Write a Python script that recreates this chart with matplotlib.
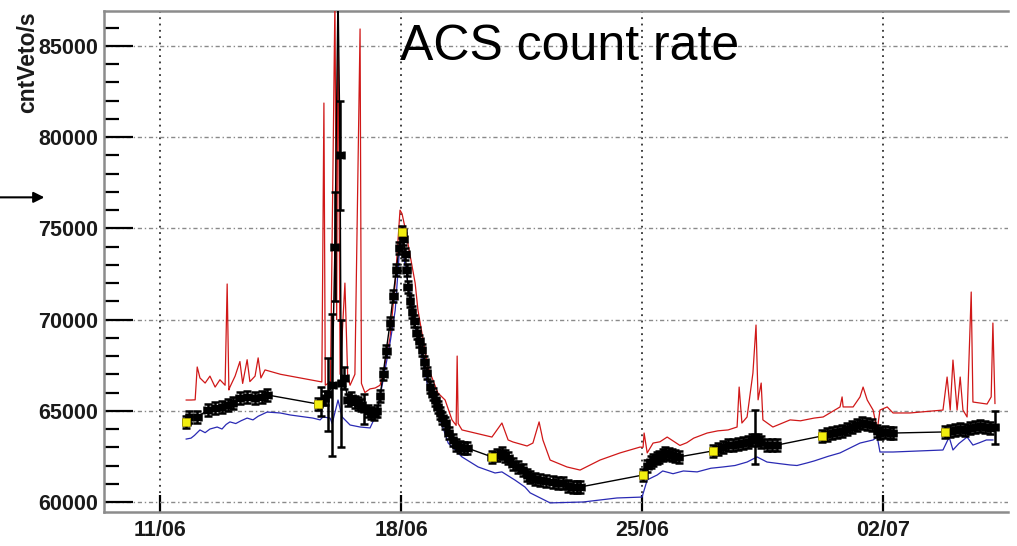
"""ACS veto count rate over the monitoring period."""

import matplotlib.pyplot as plt
import numpy as np
from matplotlib.ticker import FixedLocator, MultipleLocator

# time axis in days since 11/06 00:00
TICK_DAYS = [0, 7, 14, 21]
TICK_LABELS = ["11/06", "18/06", "25/06", "02/07"]

# upper envelope (red)
max_day = [
    0.76, 0.90, 1.02, 1.08, 1.16, 1.31, 1.45, 1.60, 1.74, 1.89, 1.95, 2.00, 2.03, 2.18,
    2.32, 2.40, 2.53, 2.61, 2.76, 2.85, 2.93, 3.05, 3.50, 4.07, 4.70, 4.76, 4.80, 4.95,
    5.08, 5.13, 5.17, 5.23, 5.37, 5.45, 5.52, 5.66, 5.81, 5.85, 5.95, 6.10, 6.25, 6.39,
    6.48, 6.68, 6.83, 6.97, 7.03, 7.12, 7.26, 7.41, 7.49, 7.78, 8.07, 8.28, 8.48, 8.60,
    8.63, 8.66, 8.77, 9.15, 9.64, 9.93, 10.11, 10.25, 10.66, 10.83, 11.01, 11.12, 11.33,
    11.82, 12.20, 12.78, 13.36, 13.94, 14.03, 14.06, 14.15, 14.32, 14.52, 14.73, 14.90,
    15.10, 15.30, 15.50, 15.89, 16.20, 16.50, 16.76, 16.82, 16.90, 17.05, 17.22, 17.31,
    17.37, 17.46, 17.51, 17.80, 18.30, 18.60, 19.00, 19.26, 19.75, 19.81, 19.84, 20.13,
    20.33, 20.42, 20.54, 20.71, 20.83, 20.91, 21.12, 21.29, 21.78, 22.74, 22.86, 22.95,
    23.03, 23.15, 23.24, 23.32, 23.44, 23.56, 23.61, 24.02, 24.14, 24.19, 24.25,
]
max_rate = [
    65590, 65590, 65600, 67400, 66800, 66520, 66900, 66300, 66700, 66400, 71950, 66140, 66300, 66900,
    67700, 66500, 67800, 66600, 66900, 67900, 66800, 67240, 67000, 66800, 66580, 81870, 66400, 66600,
    87500, 70000, 87500, 67000, 72000, 66900, 66400, 67000, 85930, 66500, 66000, 66200, 66250, 66400,
    67000, 69000, 72000, 76000, 75800, 75000, 73540, 72000, 70530, 67400, 65980, 65590, 64500, 64200,
    68000, 64300, 63950, 63780, 63560, 64330, 63400, 63290, 63070, 63230, 64390, 63400, 62300,
    61920, 61750, 62300, 62690, 63010, 63000, 63780, 62690, 63230, 63300, 63560, 63350,
    63100, 63250, 63500, 63780, 63900, 63950, 64110, 66300, 64330, 64660, 67070, 69700,
    65600, 66520, 64500, 64110, 64500, 64450, 64600, 64660, 65210, 65760, 65210, 65210,
    65760, 66300, 65590, 65040, 63950, 65040, 65210, 64880, 64880, 65040, 66850, 65040,
    67780, 65040, 66850, 65040, 64660, 71510, 65480, 65370, 65760, 69810, 65400,
]

# lower envelope (blue)
min_day = [
    0.76, 0.90, 1.00, 1.16, 1.31, 1.45, 1.66, 1.80, 1.92, 2.03, 2.20, 2.35, 2.53, 2.70,
    2.85, 3.11, 3.49, 3.78, 4.44, 4.65, 4.73, 4.94, 5.00, 5.17, 5.29, 5.52, 5.81, 6.10,
    6.30, 6.48, 6.68, 6.83, 6.97, 7.03, 7.20, 7.32, 7.41, 7.61, 7.78, 8.07, 8.37, 8.77,
    9.24, 9.73, 9.93, 10.31, 10.60, 10.75, 11.33, 12.29, 13.27, 14.00, 14.15, 14.32,
    14.44, 14.60, 14.90, 15.20, 15.60, 16.00, 16.35, 16.70, 17.05, 17.34, 17.63, 18.00,
    18.30, 18.50, 18.79, 19.00, 19.40, 19.75, 20.33, 20.71, 20.83, 20.91, 21.29, 22.74,
    22.92, 23.03, 23.20, 23.44, 23.61, 23.80, 24.00, 24.19,
]
min_rate = [
    63450, 63500, 63650, 63950, 63800, 64000, 64110, 64000, 64250, 64390, 64300, 64450, 64600, 64500,
    64700, 64930, 64880, 64770, 64600, 64500, 64660, 64600, 64300, 65590, 64660, 64220, 64110, 64060,
    64880, 66690, 68720, 70500, 74200, 74000, 72000, 71070, 69590, 67950, 66300, 64880, 63230, 62470,
    61920, 61590, 61650, 61200, 60820, 60500, 59950, 60000, 60220, 60270, 61210, 61370,
    61480, 61700, 61550, 61700, 61650, 61850, 61920, 62000, 62190, 62470, 62190, 62100,
    62030, 62000, 62140, 62250, 62500, 62690, 63230, 63400, 63560, 62740, 62740, 62850,
    63560, 62850, 63200, 63560, 63120, 63250, 63400, 63400,
]

# mean rate per interval with errors (black)
mean_day = [
    0.76, 0.84, 1.08, 1.39, 1.60, 1.80, 1.97, 2.12, 2.32, 2.53, 2.76, 2.96, 3.11,
    4.59, 4.68, 4.79, 4.88, 5.00, 5.08, 5.17, 5.23, 5.26, 5.35, 5.45, 5.55, 5.66, 5.75,
    5.84, 5.93, 6.04, 6.13, 6.22, 6.30, 6.39, 6.48, 6.57, 6.68, 6.77, 6.86, 6.94,
    7.03, 7.07, 7.12, 7.16, 7.20, 7.26, 7.32, 7.38, 7.46, 7.53, 7.61, 7.68, 7.75, 7.84,
    7.92, 7.99, 8.06, 8.13, 8.20, 8.28, 8.39, 8.51, 8.61, 8.71, 8.82, 8.92,
    9.64, 9.78, 9.93, 10.02, 10.11, 10.25, 10.40, 10.54, 10.66, 10.75, 10.90, 11.04,
    11.20, 11.41, 11.55, 11.70, 11.85, 11.99, 12.10, 12.20,
    14.03, 14.15, 14.25, 14.32, 14.42, 14.50, 14.60, 14.67, 14.77, 14.87, 14.97, 15.07,
    16.06, 16.20, 16.35, 16.50, 16.64, 16.79, 16.93, 17.08, 17.20, 17.28, 17.37, 17.45,
    17.63, 17.78, 17.92,
    19.23, 19.37, 19.52, 19.66, 19.81, 19.95, 20.10, 20.24, 20.39, 20.53, 20.68, 20.83,
    20.91, 21.06, 21.20, 21.29,
    22.80, 22.95, 23.10, 23.24, 23.39, 23.53, 23.68, 23.82, 23.97, 24.11, 24.24,
]
mean_rate = [
    64390, 64660, 64660, 65040, 65150, 65200, 65320, 65430, 65700, 65760, 65700, 65760, 65870,
    65370, 65500, 65700, 65900, 66400, 74000, 88000, 79000, 66500, 66800, 65600, 65700, 65500, 65400,
    65300, 65100, 65000, 64900, 64800, 65000, 65800, 67000, 68300, 69800, 71300, 72700, 73900,
    74800, 74400, 73600, 72700, 71800, 71000, 70400, 69900, 69260, 68800, 68330, 67700, 67070, 66300,
    65900, 65590, 65200, 64880, 64600, 64330, 63800, 63400, 63150, 63010, 62980, 62960,
    62470, 62600, 62690, 62500, 62400, 62100, 61920, 61750, 61500, 61370, 61250, 61210,
    61150, 61100, 61050, 61040, 60900, 60820, 60820, 60820,
    61480, 61950, 62200, 62300, 62400, 62470, 62600, 62690, 62650, 62580, 62500, 62470,
    62800, 62900, 63010, 63100, 63120, 63200, 63230, 63300, 63400, 63560, 63400, 63300,
    63120, 63120, 63120,
    63620, 63700, 63780, 63830, 63900, 64000, 64110, 64220, 64330, 64300, 64200, 63900,
    63780, 63840, 63800, 63780,
    63840, 63900, 63950, 64010, 63950, 64060, 64110, 64150, 64110, 64060, 64100,
]
# error on the mean; most intervals carry about +-330 counts/s
big_errors = {
    4.68: 800, 4.79: 400, 4.88: 2000, 5.00: 3900, 5.08: 3000, 5.17: 500,
    5.23: 3000, 5.26: 3500, 5.35: 600, 5.93: 800, 17.28: 1500, 24.24: 900,
}
mean_err = [big_errors.get(d, 330) for d in mean_day]

# first interval of every data run
run_start_day = [0.76, 4.59, 7.03, 9.64, 14.03, 16.06, 19.23, 22.80]

ALARM_LEVEL = 76700

RED = "#d01818"
BLUE = "#2a2ab4"
FRAME = "#8c8c8c"
FONT = "Liberation Sans"


def main() -> None:
    fig = plt.figure(figsize=(10.17, 5.46), dpi=100)
    ax = fig.add_axes([0.1023, 0.0623, 0.8889, 0.9176])

    ax.plot(max_day, max_rate, color=RED, lw=0.9, zorder=3)
    ax.plot(min_day, min_rate, color=BLUE, lw=0.9, zorder=3)

    ax.plot(mean_day, mean_rate, color="black", lw=1.0, zorder=4)
    ax.errorbar(
        mean_day, mean_rate, yerr=mean_err, xerr=0.1,
        fmt="s", ms=4.5, mfc="black", mec="black", ecolor="black",
        elinewidth=1.8, capsize=3.0, capthick=1.8, zorder=5,
    )

    day_arr = np.asarray(mean_day)
    rate_arr = np.asarray(mean_rate)
    idx = [int(np.argmin(np.abs(day_arr - d))) for d in run_start_day]
    ax.scatter(day_arr[idx], rate_arr[idx], marker="s", s=40,
               color="#f2ee10", edgecolors="#b0a000", linewidths=0.5, zorder=6)

    ax.set_xlim(-1.626, 24.63)
    ax.set_ylim(59452, 86917)

    ax.xaxis.set_major_locator(FixedLocator(TICK_DAYS))
    ax.set_xticklabels(TICK_LABELS)
    ax.yaxis.set_major_locator(MultipleLocator(5000))
    ax.yaxis.set_minor_locator(MultipleLocator(1000))

    ax.tick_params(axis="y", which="major", direction="in", length=21, width=1.6,
                   color="black", pad=4)
    ax.tick_params(axis="y", which="minor", direction="in", length=11, width=1.6,
                   color="black")
    ax.tick_params(axis="x", which="major", direction="in", length=12, width=1.6,
                   color="black", pad=6)
    for lab in ax.get_yticklabels() + ax.get_xticklabels():
        lab.set_fontfamily(FONT)
        lab.set_fontweight("bold")
        lab.set_fontsize(15.5)
        lab.set_color("#1a1a1a")

    ax.yaxis.grid(True, color="#8a8a8a", linestyle=(0, (3, 2, 1, 2)), lw=1.0)
    ax.xaxis.grid(True, color="#303030", linestyle=(0, (1, 2.5)), lw=1.3)
    ax.set_axisbelow(True)

    for side in ("left", "bottom", "top", "right"):
        ax.spines[side].set_color(FRAME)
        ax.spines[side].set_linewidth(1.8)
    ax.spines["right"].set_visible(False)

    fig.text(0.027, 0.98, "cntVeto/s", rotation=90, ha="center", va="top",
             fontfamily=FONT, fontweight="bold", fontsize=16.5, color="#1a1a1a")

    ax.text(0.515, 0.928, "ACS count rate", transform=ax.transAxes,
            ha="center", va="center", fontfamily=FONT, fontsize=36, zorder=7)

    ax.annotate("", xy=(-0.066, ALARM_LEVEL), xytext=(-0.118, ALARM_LEVEL),
                xycoords=("axes fraction", "data"), textcoords=("axes fraction", "data"),
                arrowprops=dict(arrowstyle="-|>", color="black", lw=1.5,
                                mutation_scale=16, shrinkA=0, shrinkB=0),
                annotation_clip=False)

    fig.savefig("out.png", dpi=100)
    plt.close(fig)


if __name__ == "__main__":
    main()
